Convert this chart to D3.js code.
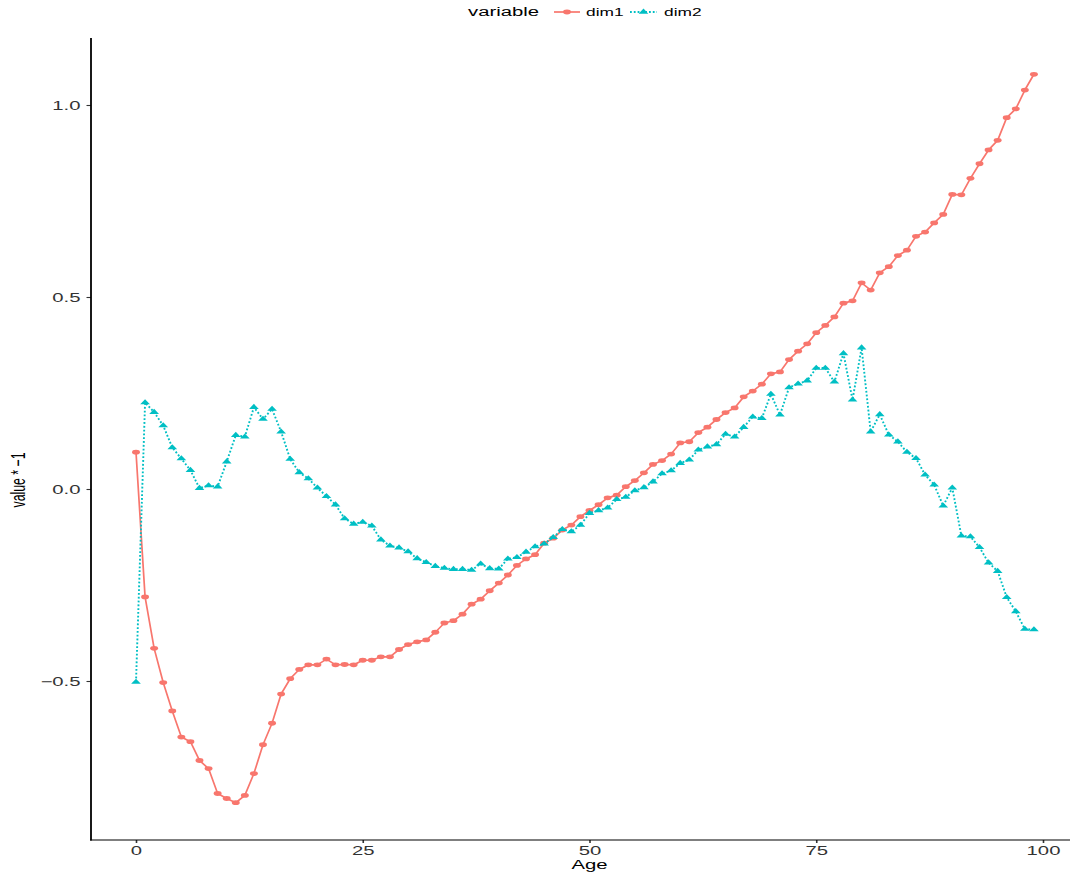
<!DOCTYPE html>
<html>
<head>
<meta charset="utf-8">
<script src="https://cdn.jsdelivr.net/npm/d3@7"></script>
<style>
  html, body { margin: 0; padding: 0; background: #fff; }
  svg { display: block; }
  text { font-family: "Liberation Sans", Arial, Helvetica, sans-serif; }
</style>
</head>
<body>
<svg id="chart" width="1070" height="873"></svg>
<script>
const ages = d3.range(0, 100);
const dim1 = [
  0.096, -0.281, -0.415, -0.504, -0.578, -0.646, -0.658, -0.707, -0.728, -0.793,
  -0.806, -0.817, -0.798, -0.741, -0.666, -0.610, -0.534, -0.494, -0.470, -0.458,
  -0.458, -0.443, -0.458, -0.457, -0.458, -0.446, -0.446, -0.437, -0.437, -0.418,
  -0.405, -0.398, -0.393, -0.373, -0.349, -0.343, -0.326, -0.300, -0.287, -0.265,
  -0.245, -0.224, -0.199, -0.182, -0.171, -0.141, -0.128, -0.107, -0.094, -0.072,
  -0.056, -0.041, -0.023, -0.016, 0.006, 0.022, 0.042, 0.064, 0.074, 0.091,
  0.120, 0.123, 0.147, 0.161, 0.181, 0.199, 0.211, 0.240, 0.255, 0.273,
  0.300, 0.305, 0.337, 0.359, 0.378, 0.407, 0.426, 0.448, 0.484, 0.490,
  0.537, 0.518, 0.563, 0.579, 0.608, 0.622, 0.658, 0.669, 0.693, 0.715,
  0.767, 0.766, 0.809, 0.847, 0.883, 0.908, 0.967, 0.990, 1.039, 1.080
];
const dim2 = [
  -0.503, 0.225, 0.200, 0.165, 0.108, 0.079, 0.049, 0.002, 0.009, 0.006,
  0.071, 0.140, 0.136, 0.213, 0.182, 0.208, 0.149, 0.078, 0.043, 0.027,
  0.003, -0.019, -0.041, -0.077, -0.091, -0.086, -0.096, -0.132, -0.148, -0.153,
  -0.163, -0.181, -0.191, -0.201, -0.206, -0.209, -0.209, -0.211, -0.195, -0.207,
  -0.208, -0.182, -0.178, -0.164, -0.150, -0.143, -0.126, -0.105, -0.111, -0.094,
  -0.063, -0.056, -0.049, -0.027, -0.021, -0.004, 0.004, 0.019, 0.040, 0.048,
  0.067, 0.076, 0.102, 0.110, 0.116, 0.143, 0.136, 0.161, 0.188, 0.184,
  0.247, 0.193, 0.264, 0.274, 0.282, 0.315, 0.315, 0.279, 0.353, 0.232,
  0.368, 0.149, 0.194, 0.141, 0.123, 0.096, 0.080, 0.037, 0.011, -0.044,
  0.003, -0.122, -0.124, -0.152, -0.192, -0.214, -0.282, -0.319, -0.365, -0.366
];
const xTicks = [0, 25, 50, 75, 100];
const yTicks = [-0.5, 0.0, 0.5, 1.0];
const seriesNames = ["dim1", "dim2"];
const legendTitle = "variable";
const xTitle = "Age";
const yTitle = "value * \u22121";

const SX = 1.65; // horizontal stretch of the original rendering
const colors = { dim1: "#F8766D", dim2: "#00BFC4" };
const svg = d3.select("#chart");

const x = d3.scaleLinear().domain([0, 100]).range([136, 1043]);
const y = d3.scaleLinear().domain([0, 1]).range([489, 105]);

const series = [
  { name: "dim1", values: dim1, dash: null, width: 1.7, symbol: d3.symbolCircle, size: 18 },
  { name: "dim2", values: dim2, dash: "1.8,2.0", width: 1.9, symbol: d3.symbolTriangle, size: 15 }
];

// axes
const xAxis = d3.axisBottom(x).tickValues(xTicks).tickFormat(d3.format("d")).tickSize(3).tickPadding(3);
const gx = svg.append("g").attr("transform", "translate(0,840)").call(xAxis);
gx.select(".domain").remove();
gx.selectAll(".tick line").attr("stroke", "#333").attr("stroke-width", 1.6);
gx.selectAll(".tick text")
  .attr("fill", "#333").attr("font-size", 12.3)
  .attr("y", 0).attr("dy", 0)
  .attr("transform", `translate(0,15) scale(${SX},1)`);

const yAxis = d3.axisLeft(y).tickValues(yTicks).tickFormat(d3.format(".1f")).tickSize(4.5).tickPadding(0);
const gy = svg.append("g").attr("transform", "translate(91,0)").call(yAxis);
gy.select(".domain").remove();
gy.selectAll(".tick line").attr("stroke", "#333").attr("stroke-width", 1.1);
gy.selectAll(".tick text")
  .attr("fill", "#333").attr("font-size", 12.3)
  .attr("x", 0).attr("dy", "0.36em")
  .attr("transform", `translate(-10.5,0) scale(${SX},1)`)
  .text(d => d < 0 ? "\u2212" + d3.format(".1f")(-d) : d3.format(".1f")(d));

// axis lines
svg.append("line").attr("x1", 91).attr("x2", 91).attr("y1", 38).attr("y2", 840.5)
  .attr("stroke", "#000").attr("stroke-width", 1.8);
svg.append("line").attr("x1", 90).attr("x2", 1070).attr("y1", 840).attr("y2", 840)
  .attr("stroke", "#000").attr("stroke-width", 1.1);

// axis titles
svg.append("text").attr("transform", `translate(${x(50)},869) scale(${SX},1)`)
  .attr("text-anchor", "middle").attr("font-size", 12.3).attr("fill", "#000").text(xTitle);
svg.append("text").attr("transform", `translate(18,480) scale(${SX},1) rotate(-90)`)
  .attr("text-anchor", "middle").attr("dy", "0.36em").attr("font-size", 12.3).attr("fill", "#000").text(yTitle);

// series
const line = d3.line().x((d, i) => x(ages[i])).y(d => y(d));
series.forEach(s => {
  const g = svg.append("g");
  g.append("path").datum(s.values)
    .attr("d", line).attr("fill", "none")
    .attr("stroke", colors[s.name]).attr("stroke-width", s.width)
    .attr("stroke-linejoin", "round")
    .attr("stroke-dasharray", s.dash);
  g.selectAll("path.pt").data(s.values).join("path").attr("class", "pt")
    .attr("d", d3.symbol().type(s.symbol).size(s.size)())
    .attr("transform", (d, i) => `translate(${x(ages[i])},${y(d)}) scale(${SX},1)`)
    .attr("fill", colors[s.name]);
});

// legend
const lg = svg.append("g");
lg.append("text").attr("transform", `translate(468,16) scale(${SX},1)`)
  .attr("font-size", 12.3).attr("fill", "#000").text(legendTitle);
const legendItems = [
  { name: "dim1", x0: 554, x1: 580, tx: 586 },
  { name: "dim2", x0: 630, x1: 657, tx: 664 }
];
legendItems.forEach(it => {
  const s = series.find(d => d.name === it.name);
  lg.append("line").attr("x1", it.x0).attr("x2", it.x1).attr("y1", 12).attr("y2", 12)
    .attr("stroke", colors[it.name]).attr("stroke-width", s.width).attr("stroke-dasharray", s.dash);
  lg.append("path").attr("d", d3.symbol().type(s.symbol).size(s.size)())
    .attr("transform", `translate(${(it.x0 + it.x1) / 2},12) scale(${SX},1)`)
    .attr("fill", colors[it.name]);
  lg.append("text").attr("transform", `translate(${it.tx},16) scale(${SX},1)`)
    .attr("font-size", 10.5).attr("fill", "#000").text(it.name);
});
</script>
</body>
</html>
